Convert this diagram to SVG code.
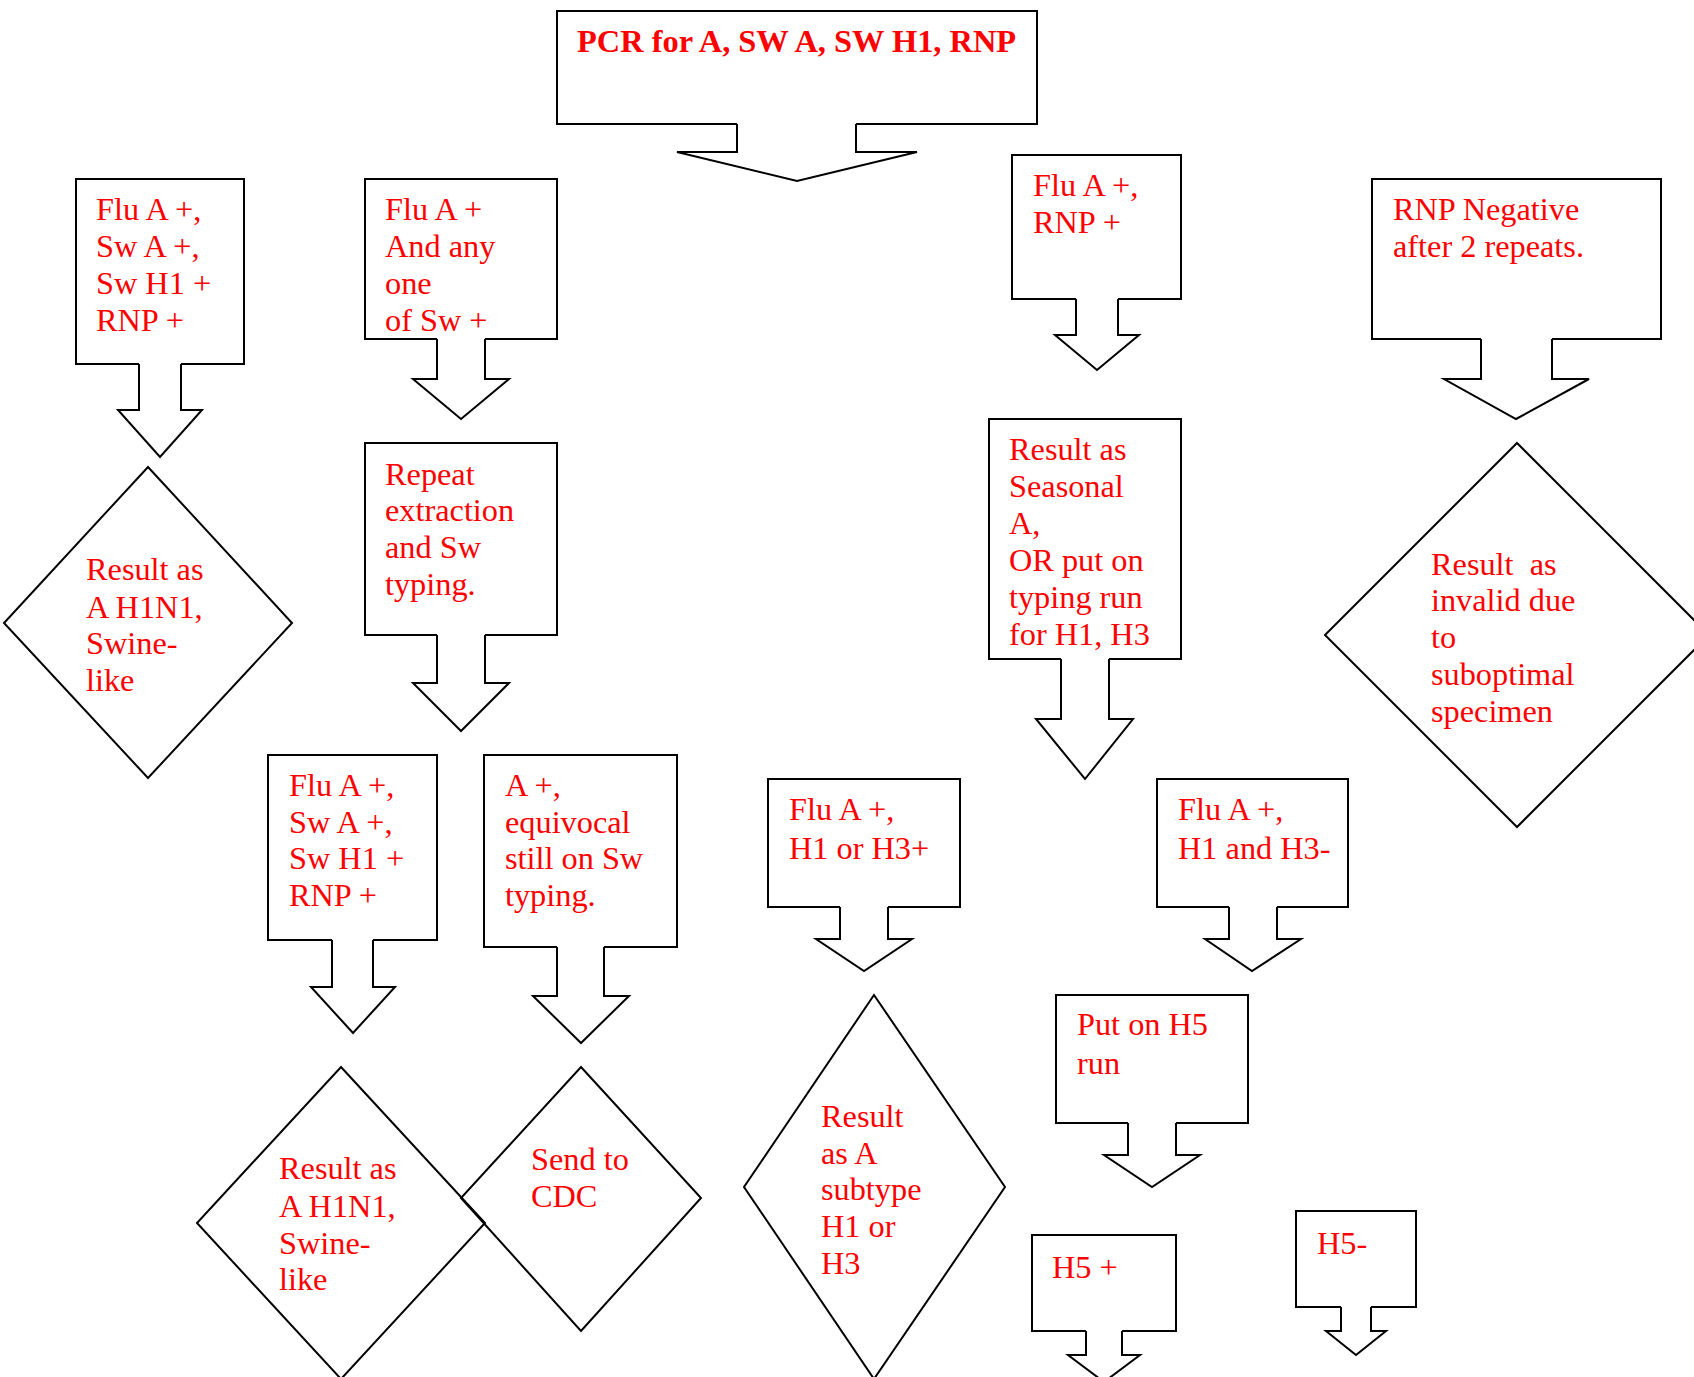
<svg xmlns="http://www.w3.org/2000/svg" width="1694" height="1377" viewBox="0 0 1694 1377">
<style>
.s{fill:none;stroke:#000;stroke-width:2;stroke-linejoin:miter}
.t{font-family:"Liberation Serif","Times New Roman",serif;font-size:32.3px;fill:#ff0000;transform:translate(0px,2px)}
.b{font-weight:bold;font-size:32.4px}
</style>
<rect width="1694" height="1377" fill="#fff"/>
<g id="n_pcr">
<path class="s" d="M737,124 H557 V11 H1037 V124 H856"/>
<text class="t b" x="577" y="50">PCR for A, SW A, SW H1, RNP</text>
</g>
<g id="n_all_pos">
<path class="s" d="M139,364 H76 V179 H244 V364 H181"/>
<text class="t"><tspan x="96" y="218">Flu A +,</tspan><tspan x="96" y="255">Sw A +,</tspan><tspan x="96" y="292">Sw H1 +</tspan><tspan x="96" y="329">RNP +</tspan></text>
</g>
<g id="n_any_sw">
<path class="s" d="M437,339 H365 V179 H557 V339 H485"/>
<text class="t"><tspan x="385" y="218">Flu A +</tspan><tspan x="385" y="255">And any</tspan><tspan x="385" y="292">one</tspan><tspan x="385" y="329">of Sw +</tspan></text>
</g>
<g id="n_repeat">
<path class="s" d="M437,635 H365 V443 H557 V635 H485"/>
<text class="t"><tspan x="385" y="483">Repeat</tspan><tspan x="385" y="519">extraction</tspan><tspan x="385" y="556">and Sw</tspan><tspan x="385" y="593">typing.</tspan></text>
</g>
<g id="d_h1n1_a">
<path class="s" d="M148,467 L292,623 L148,778 L4,623 Z"/>
<text class="t"><tspan x="86" y="578">Result as</tspan><tspan x="86" y="616">A H1N1,</tspan><tspan x="86" y="652">Swine-</tspan><tspan x="86" y="689">like</tspan></text>
</g>
<g id="n_flu_rnp">
<path class="s" d="M1076,299 H1012 V155 H1181 V299 H1118"/>
<text class="t"><tspan x="1033" y="194">Flu A +,</tspan><tspan x="1033" y="231">RNP +</tspan></text>
</g>
<g id="n_rnp_neg">
<path class="s" d="M1481,339 H1372 V179 H1661 V339 H1552"/>
<text class="t"><tspan x="1393" y="218">RNP Negative</tspan><tspan x="1393" y="255">after 2 repeats.</tspan></text>
</g>
<g id="n_seasonal">
<path class="s" d="M1061,659 H989 V419 H1181 V659 H1109"/>
<text class="t"><tspan x="1009" y="458">Result as</tspan><tspan x="1009" y="495">Seasonal</tspan><tspan x="1009" y="532">A,</tspan><tspan x="1009" y="569">OR put on</tspan><tspan x="1009" y="606">typing run</tspan><tspan x="1009" y="643">for H1, H3</tspan></text>
</g>
<g id="d_invalid">
<path class="s" d="M1517,443 L1709,635 L1517,827 L1325,635 Z"/>
<text class="t" xml:space="preserve"><tspan x="1431" y="573">Result  as</tspan><tspan x="1431" y="609">invalid due</tspan><tspan x="1431" y="646">to</tspan><tspan x="1431" y="683">suboptimal</tspan><tspan x="1431" y="720">specimen</tspan></text>
</g>
<g id="n_all_pos2">
<path class="s" d="M332,940 H268 V755 H437 V940 H373"/>
<text class="t"><tspan x="289" y="794">Flu A +,</tspan><tspan x="289" y="831">Sw A +,</tspan><tspan x="289" y="867">Sw H1 +</tspan><tspan x="289" y="904">RNP +</tspan></text>
</g>
<g id="n_equivocal">
<path class="s" d="M557,947 H484 V755 H677 V947 H604"/>
<text class="t"><tspan x="505" y="794">A +,</tspan><tspan x="505" y="831">equivocal</tspan><tspan x="505" y="867">still on Sw</tspan><tspan x="505" y="904">typing.</tspan></text>
</g>
<g id="d_h1n1_b">
<path class="s" d="M341,1067 L485,1223 L341,1379 L197,1223 Z"/>
<text class="t"><tspan x="279" y="1177">Result as</tspan><tspan x="279" y="1215">A H1N1,</tspan><tspan x="279" y="1252">Swine-</tspan><tspan x="279" y="1288">like</tspan></text>
</g>
<g id="d_cdc">
<path class="s" d="M581,1067 L701,1198 L581,1331 L461,1198 Z"/>
<text class="t"><tspan x="531" y="1168">Send to</tspan><tspan x="531" y="1205">CDC</tspan></text>
</g>
<g id="n_h1_or_h3">
<path class="s" d="M840,907 H768 V779 H960 V907 H888"/>
<text class="t"><tspan x="789" y="818">Flu A +,</tspan><tspan x="789" y="857">H1 or H3+</tspan></text>
</g>
<g id="n_h1_and_h3">
<path class="s" d="M1229,907 H1157 V779 H1348 V907 H1277"/>
<text class="t"><tspan x="1178" y="818">Flu A +,</tspan><tspan x="1178" y="857">H1 and H3-</tspan></text>
</g>
<g id="d_subtype">
<path class="s" d="M874,995 L1005,1187 L874,1379 L744,1187 Z"/>
<text class="t"><tspan x="821" y="1125">Result</tspan><tspan x="821" y="1162">as A</tspan><tspan x="821" y="1198">subtype</tspan><tspan x="821" y="1235">H1 or</tspan><tspan x="821" y="1272">H3</tspan></text>
</g>
<g id="n_h5_run">
<path class="s" d="M1128,1123 H1056 V995 H1248 V1123 H1176"/>
<text class="t"><tspan x="1077" y="1033">Put on H5</tspan><tspan x="1077" y="1072">run</tspan></text>
</g>
<g id="n_h5_pos">
<path class="s" d="M1086,1331 H1032 V1235 H1176 V1331 H1122"/>
<text class="t" x="1052" y="1276">H5 +</text>
</g>
<g id="n_h5_neg">
<path class="s" d="M1341,1307 H1296 V1211 H1416 V1307 H1371"/>
<text class="t" x="1317" y="1252">H5-</text>
</g>
<g id="connectors">
<path class="s" d="M856,124 V152 H917 L797,181 L677,152 H737 V124"/>
<path class="s" d="M181,364 V410 H202 L160,457 L118,410 H139 V364"/>
<path class="s" d="M485,339 V379 H509 L461,419 L413,379 H437 V339"/>
<path class="s" d="M485,635 V683 H509 L461,731 L413,683 H437 V635"/>
<path class="s" d="M1118,299 V335 H1139 L1097,370 L1055,335 H1076 V299"/>
<path class="s" d="M1552,339 V379 H1589 L1516,419 L1444,379 H1481 V339"/>
<path class="s" d="M1109,659 V719 H1133 L1085,779 L1036,719 H1061 V659"/>
<path class="s" d="M373,940 V987 H395 L353,1033 L311,987 H332 V940"/>
<path class="s" d="M604,947 V996 H629 L581,1043 L533,996 H557 V947"/>
<path class="s" d="M888,907 V939 H912 L864,971 L816,939 H840 V907"/>
<path class="s" d="M1277,907 V939 H1301 L1252,971 L1205,939 H1229 V907"/>
<path class="s" d="M1176,1123 V1155 H1200 L1152,1187 L1104,1155 H1128 V1123"/>
<path class="s" d="M1122,1331 V1355 H1140 L1104,1382 L1068,1355 H1086 V1331"/>
<path class="s" d="M1371,1307 V1331 H1386 L1356,1355 L1326,1331 H1341 V1307"/>
</g>
</svg>
